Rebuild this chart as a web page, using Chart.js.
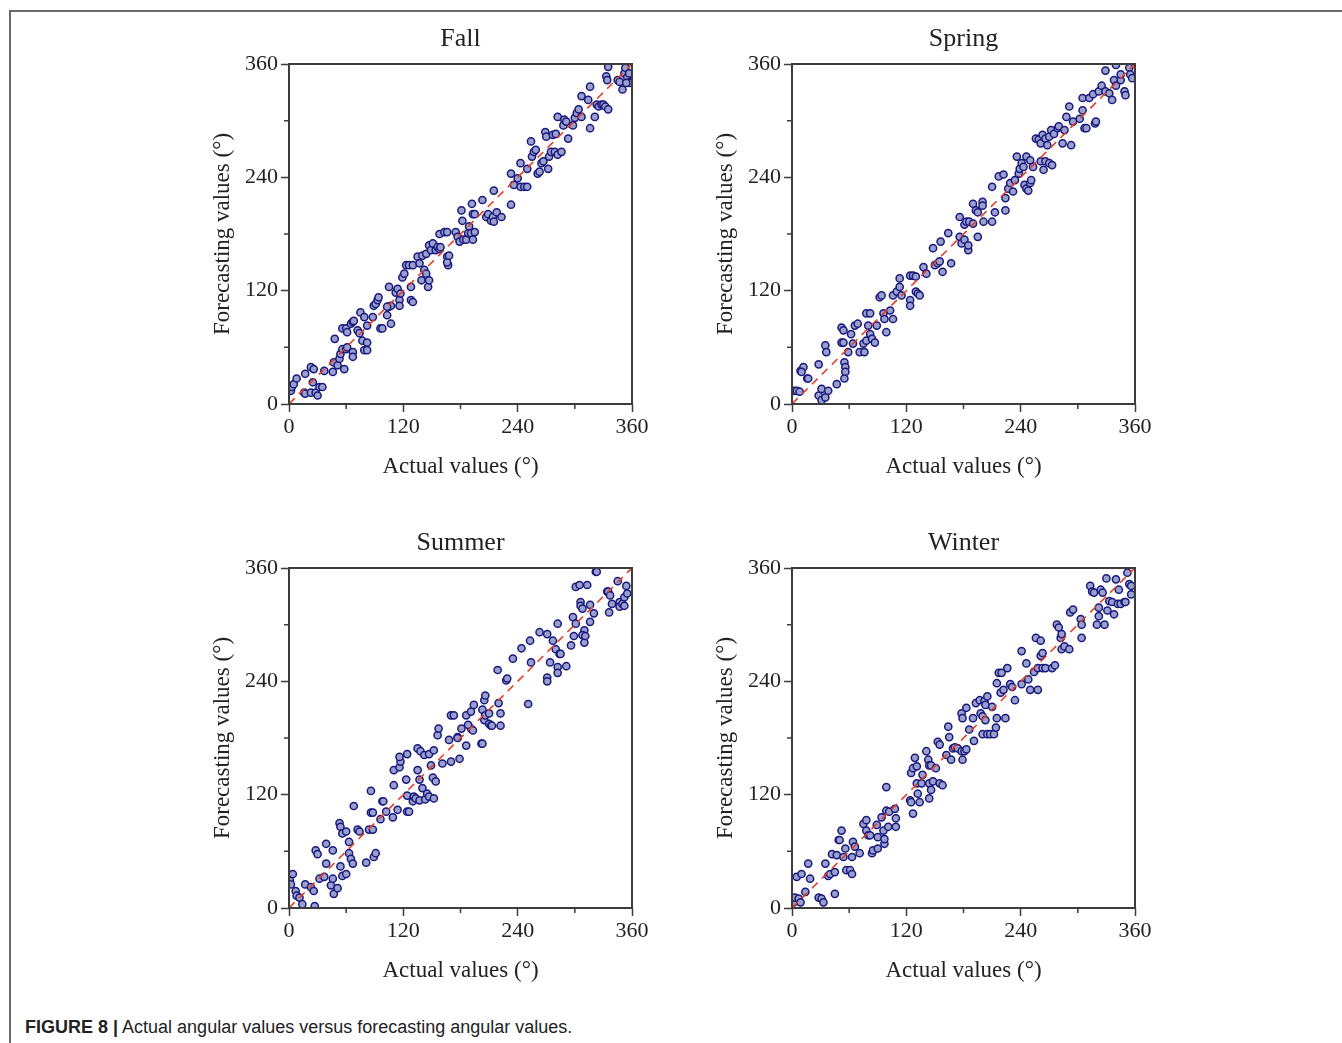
<!DOCTYPE html>
<html>
<head>
<meta charset="utf-8">
<title>Figure 8</title>
<script src="https://cdn.jsdelivr.net/npm/chart.js@4.4.0/dist/chart.umd.min.js"></script>
<style>
    body { margin: 0; background: #fff; width: 1342px; height: 1043px; position: relative; overflow: hidden; }
    .frame { position: absolute; left: 9px; top: 10px; right: 0; bottom: 0; border-top: 2px solid #6a6a6a; border-left: 2px solid #6a6a6a; }
    canvas { position: absolute; }
    .caption { position: absolute; left: 25px; top: 1017px; font-family: 'Liberation Sans', Arial, sans-serif; font-size: 18px; color: #222; }
    .caption b { font-weight: bold; }
</style>
</head>
<body>
<div class="frame"></div>
<canvas id="fallChart" width="473" height="470" style="left:189px; top:14px;"></canvas>
<canvas id="springChart" width="473" height="470" style="left:692px; top:14px;"></canvas>
<canvas id="summerChart" width="473" height="470" style="left:189px; top:518px;"></canvas>
<canvas id="winterChart" width="473" height="470" style="left:692px; top:518px;"></canvas>
<div class="caption"><b>FIGURE 8 |</b> Actual angular values versus forecasting angular values.</div>

<script>
// === DATA: [actual, forecast] pairs in degrees ===
const tickValues = [0, 120, 240, 360];
const minorTicks = [60, 180, 300];
const xTitle = 'Actual values (°)';
const yTitle = 'Forecasting values (°)';

const fallPoints = [[2,14],[3,18],[5,21],[8,27],[16,12],[17,11],[17,32],[23,39],[26,37],[25,23],[23,12],[28,12],[30,9],[32,18],[35,18],[37,35],[46,34],[47,44],[48,69],[51,41],[53,48],[54,53],[56,58],[58,37],[60,58],[61,60],[56,80],[60,80],[61,76],[65,85],[67,87],[68,88],[67,55],[67,50],[72,78],[74,75],[75,97],[79,92],[77,67],[79,57],[82,57],[82,65],[82,83],[88,92],[89,104],[91,106],[93,110],[94,113],[96,80],[98,80],[103,94],[105,103],[107,104],[103,103],[107,85],[105,124],[112,118],[114,122],[116,110],[116,104],[117,117],[119,134],[121,138],[123,147],[126,147],[128,110],[130,108],[128,124],[130,147],[135,156],[137,149],[139,131],[142,142],[144,138],[146,124],[147,131],[140,157],[144,159],[147,168],[149,163],[151,170],[154,163],[156,166],[158,164],[159,166],[166,156],[167,147],[166,150],[168,157],[158,180],[163,182],[166,182],[175,182],[177,177],[179,172],[181,205],[182,194],[183,174],[186,174],[188,181],[189,188],[191,181],[193,174],[195,182],[192,212],[193,201],[195,201],[203,216],[207,198],[209,201],[212,194],[214,198],[215,193],[215,226],[218,203],[223,198],[233,211],[233,244],[236,232],[240,239],[243,230],[247,230],[250,230],[243,255],[250,249],[254,278],[255,262],[257,267],[259,269],[261,244],[263,246],[265,255],[267,257],[269,288],[270,283],[272,249],[273,262],[275,267],[277,285],[280,286],[279,267],[282,264],[286,267],[282,304],[288,295],[289,301],[291,299],[293,281],[298,295],[300,303],[302,308],[304,312],[307,326],[307,304],[314,322],[316,292],[316,336],[321,304],[323,317],[325,315],[328,317],[330,317],[332,315],[335,312],[333,347],[334,343],[335,357],[345,343],[347,341],[350,333],[352,350],[353,356],[355,346],[357,350],[359,341],[357,340],[354,340]];

const springPoints = [[2,14],[5,14],[8,13],[9,35],[12,39],[10,34],[16,27],[17,27],[28,42],[28,9],[31,4],[31,16],[35,7],[38,14],[35,62],[36,55],[47,21],[52,81],[54,78],[52,65],[54,65],[55,44],[56,39],[56,34],[55,27],[59,55],[62,74],[64,64],[66,83],[69,85],[71,55],[75,64],[76,55],[78,67],[78,96],[82,96],[80,83],[82,74],[84,69],[87,65],[89,83],[92,113],[94,115],[96,96],[97,90],[99,76],[103,99],[106,90],[106,115],[110,119],[113,133],[113,124],[115,115],[124,110],[124,104],[124,136],[127,136],[130,135],[130,119],[132,117],[134,115],[138,145],[141,138],[148,165],[150,147],[153,149],[155,151],[156,172],[158,140],[164,181],[167,149],[176,198],[176,177],[178,170],[181,174],[185,163],[185,168],[181,190],[183,193],[186,193],[190,191],[190,212],[193,205],[195,203],[195,177],[200,214],[200,210],[201,193],[210,193],[210,230],[213,203],[217,241],[222,243],[224,218],[224,205],[227,228],[229,234],[232,225],[234,237],[236,262],[238,244],[239,249],[241,255],[243,251],[244,232],[246,228],[248,226],[250,234],[251,237],[246,262],[250,258],[253,251],[256,281],[259,280],[261,276],[263,285],[266,281],[268,274],[270,283],[261,257],[264,248],[266,257],[270,255],[273,253],[272,290],[275,286],[279,292],[280,294],[284,276],[286,290],[293,274],[291,315],[288,304],[295,299],[302,302],[305,311],[305,324],[307,292],[309,292],[312,324],[316,328],[318,297],[319,299],[322,331],[325,337],[329,331],[329,353],[333,329],[336,322],[338,343],[340,337],[345,343],[349,331],[350,327],[345,349],[354,356],[355,349],[357,345],[340,359]];

const summerPoints = [[1,29],[2,25],[4,36],[7,18],[8,13],[11,11],[14,4],[17,25],[23,22],[26,18],[27,2],[28,61],[30,57],[32,31],[37,33],[39,68],[39,47],[44,24],[46,31],[46,61],[47,15],[51,21],[53,90],[54,86],[56,79],[60,81],[54,44],[56,34],[60,36],[63,70],[63,58],[65,52],[67,47],[68,108],[72,83],[74,81],[81,48],[84,83],[86,101],[88,101],[86,124],[88,83],[89,54],[91,58],[96,94],[98,113],[99,113],[102,102],[109,96],[110,130],[114,104],[110,146],[116,149],[117,155],[116,160],[123,136],[124,163],[124,119],[124,102],[126,102],[130,113],[131,118],[133,116],[135,169],[135,146],[137,136],[137,114],[138,166],[140,127],[142,162],[143,115],[145,121],[147,118],[147,163],[149,151],[151,138],[152,167],[152,116],[154,134],[156,183],[157,190],[161,153],[168,178],[170,155],[170,204],[173,204],[177,181],[177,180],[179,158],[181,190],[186,172],[186,204],[191,208],[191,190],[193,188],[194,215],[188,194],[202,174],[203,174],[203,210],[205,220],[206,225],[205,199],[206,204],[210,195],[212,193],[213,193],[210,206],[219,252],[220,217],[222,206],[222,193],[228,241],[229,243],[235,264],[244,275],[251,216],[253,283],[254,260],[263,292],[271,290],[271,244],[271,240],[274,260],[277,283],[280,274],[282,301],[282,255],[282,249],[284,269],[285,269],[291,256],[296,278],[298,308],[299,288],[301,301],[301,340],[305,342],[306,324],[306,320],[308,317],[310,294],[308,289],[310,281],[311,288],[313,342],[316,321],[316,303],[320,312],[322,356],[323,356],[334,335],[335,335],[337,331],[336,313],[339,322],[345,346],[347,324],[347,319],[350,322],[352,329],[354,341],[355,333],[352,320]];

const winterPoints = [[2,6],[3,11],[7,10],[9,6],[5,33],[10,36],[14,17],[17,47],[19,31],[28,11],[31,10],[33,6],[35,47],[38,34],[40,36],[42,57],[45,15],[45,38],[47,56],[49,72],[50,72],[52,82],[54,54],[56,63],[57,40],[61,40],[63,36],[63,54],[64,70],[66,65],[71,58],[75,89],[78,93],[78,82],[80,77],[82,77],[84,58],[85,61],[89,88],[90,75],[90,63],[94,96],[96,82],[97,68],[97,73],[99,128],[99,103],[101,86],[102,102],[108,105],[109,95],[109,86],[124,114],[127,100],[125,112],[134,112],[125,143],[127,148],[129,159],[131,150],[132,121],[131,132],[136,132],[137,141],[141,166],[143,157],[144,116],[144,132],[144,151],[146,151],[146,125],[148,134],[151,148],[153,176],[155,173],[155,132],[158,130],[162,162],[164,192],[165,181],[167,157],[169,169],[171,170],[174,169],[178,166],[179,157],[181,166],[183,168],[178,206],[179,201],[183,212],[186,189],[190,201],[191,177],[193,217],[197,220],[198,206],[200,203],[202,219],[203,215],[203,199],[200,184],[205,184],[208,184],[212,184],[205,224],[210,213],[214,191],[215,201],[224,201],[215,238],[217,249],[219,228],[220,249],[222,231],[226,254],[229,237],[231,234],[234,220],[241,237],[241,272],[246,259],[248,242],[250,231],[254,250],[256,286],[258,231],[258,254],[261,283],[261,267],[263,270],[263,254],[266,254],[273,254],[276,257],[278,300],[280,297],[282,286],[283,290],[283,274],[286,277],[291,274],[292,313],[295,316],[303,306],[304,286],[304,300],[313,341],[315,335],[317,334],[320,300],[322,318],[322,309],[324,337],[326,334],[328,300],[330,349],[331,315],[333,325],[336,324],[338,311],[340,348],[342,322],[343,337],[345,322],[349,324],[350,324],[352,355],[354,343],[356,341],[356,332]];

const serif = "'Liberation Serif', 'Times New Roman', serif";
const axisColor = '#3c3c3c';

// box round the plot + short minor ticks at 60/180/300
const frameBox = {
    id: 'frameBox',
    afterDraw(chart) {
        const ctx = chart.ctx;
        const a = chart.chartArea;
        const xs = chart.scales.x, ys = chart.scales.y;
        ctx.save();
        ctx.strokeStyle = axisColor;
        ctx.lineWidth = 2;
        ctx.strokeRect(a.left, a.top, a.right - a.left, a.bottom - a.top);
        ctx.lineWidth = 1.5;
        ctx.beginPath();
        minorTicks.forEach(v => {
            const px = xs.getPixelForValue(v);
            ctx.moveTo(px, a.bottom);
            ctx.lineTo(px, a.bottom + 5);
            const py = ys.getPixelForValue(v);
            ctx.moveTo(a.left, py);
            ctx.lineTo(a.left - 5, py);
        });
        ctx.stroke();
        ctx.restore();
    }
};

function axisOptions(titleText, isX) {
    return {
        type: 'linear',
        min: 0,
        max: 360,
        afterBuildTicks: scale => { scale.ticks = tickValues.map(v => ({ value: v })); },
        afterFit: scale => {
            if (isX) scale.height = 80;
            else scale.width = 100;
        },
        ticks: {
            font: { family: serif, size: 22 },
            color: '#222',
            padding: isX ? 2 : 3,
            maxRotation: 0,
            autoSkip: false
        },
        grid: {
            drawOnChartArea: false,
            drawTicks: true,
            tickLength: 8,
            tickWidth: 1.5,
            tickColor: axisColor
        },
        border: { display: false },
        title: {
            display: true,
            text: titleText,
            color: '#222',
            font: { family: serif, size: 23 },
            padding: isX ? { top: 0, bottom: 3 } : { top: 20, bottom: 0 }
        }
    };
}

function makeSeason(canvasId, season, points) {
    const canvas = document.getElementById(canvasId);
    new Chart(canvas, {
        type: 'scatter',
        data: {
            datasets: [
                {
                    type: 'line',
                    data: [{ x: 0, y: 0 }, { x: 360, y: 360 }],
                    borderColor: '#e4402a',
                    borderWidth: 1.6,
                    borderDash: [8, 6],
                    pointRadius: 0,
                    fill: false,
                    order: 0
                },
                {
                    data: points.map(p => ({ x: p[0], y: p[1] })),
                    backgroundColor: '#9aa0cc',
                    borderColor: '#18187e',
                    borderWidth: 1.5,
                    pointRadius: 3.6,
                    order: 1
                }
            ]
        },
        options: {
            responsive: false,
            animation: false,
            layout: { padding: { top: 0, right: 30, bottom: 0, left: 0 } },
            scales: {
                x: axisOptions(xTitle, true),
                y: axisOptions(yTitle, false)
            },
            plugins: {
                legend: { display: false },
                tooltip: { enabled: false },
                title: {
                    display: true,
                    fullSize: false,
                    text: season,
                    color: '#222',
                    font: { family: serif, size: 26, weight: 'normal', lineHeight: 1 },
                    padding: { top: 12, bottom: 12 }
                }
            }
        },
        plugins: [frameBox]
    });
}

makeSeason('fallChart', 'Fall', fallPoints);
makeSeason('springChart', 'Spring', springPoints);
makeSeason('summerChart', 'Summer', summerPoints);
makeSeason('winterChart', 'Winter', winterPoints);
</script>
</body>
</html>
